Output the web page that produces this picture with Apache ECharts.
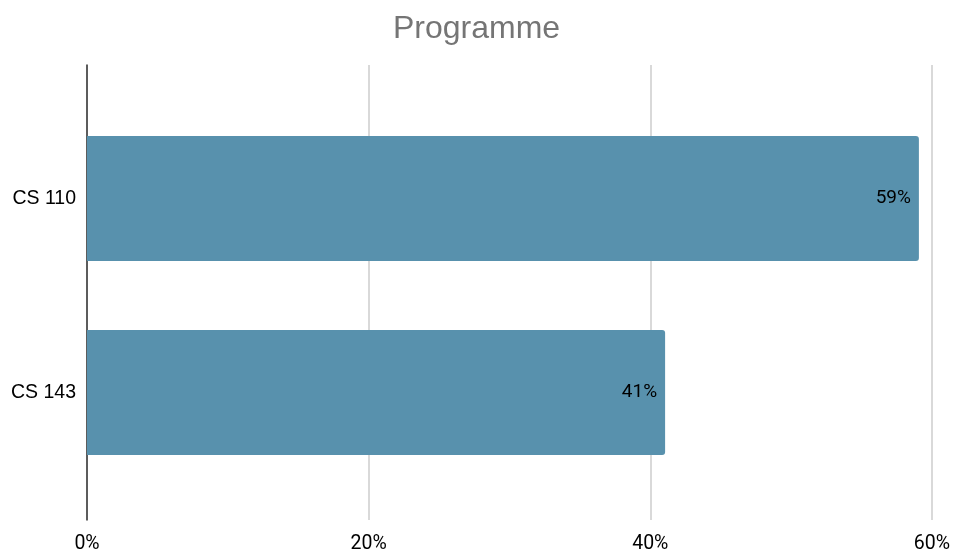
<!DOCTYPE html>
<html>
<head>
<meta charset="utf-8">
<script src="https://cdn.jsdelivr.net/npm/echarts@6/dist/echarts.min.js"></script>
<style>
  html, body { margin: 0; padding: 0; background: #fff; }
  #chart { width: 953px; height: 554px; }
</style>
</head>
<body>
<div id="chart"></div>
<script>
var categories = ['CS 110', 'CS 143'];
var shares = [59, 41];
var tickMax = 60;

var chart = echarts.init(document.getElementById('chart'));

// grid 0 holds the gridlines, tick labels and the left axis line (full plot height);
// grid 1 holds the bars, which sit inside a narrower band like in the original
var option = {
  animation: false,
  title: {
    text: 'Programme',
    left: 'center',
    top: 8,
    textStyle: { fontFamily: 'Liberation Sans', fontSize: 32, fontWeight: 'normal', color: '#757575' }
  },
  grid: [
    { left: 87, right: 20, top: 65, bottom: 34, containLabel: false },
    { left: 87, right: 20, top: 101.5, bottom: 64.5, containLabel: false }
  ],
  xAxis: [
    {
      gridIndex: 0,
      type: 'value',
      min: 0,
      max: tickMax,
      interval: 20,
      axisLine: { show: false },
      axisTick: { show: false },
      axisLabel: {
        formatter: '{value}%',
        fontFamily: 'Roboto',
        fontSize: 19.5,
        color: '#000',
        margin: 14
      },
      splitLine: { show: true, lineStyle: { color: '#cccccc', width: 1.5 } }
    },
    {
      gridIndex: 1,
      type: 'value',
      min: 0,
      max: tickMax,
      show: false
    }
  ],
  yAxis: [
    {
      gridIndex: 0,
      type: 'value',
      min: 0,
      max: 1,
      axisLine: { show: true, lineStyle: { color: '#333', width: 1.5 } },
      axisTick: { show: false },
      axisLabel: { show: false },
      splitLine: { show: false }
    },
    {
      gridIndex: 1,
      type: 'category',
      data: categories,
      inverse: true,
      axisLine: { show: false },
      axisTick: { show: false },
      axisLabel: { fontFamily: 'Liberation Sans', fontSize: 19.5, color: '#000', margin: 11 }
    }
  ],
  series: [
    {
      type: 'bar',
      xAxisIndex: 1,
      yAxisIndex: 1,
      data: shares,
      barWidth: 125,
      itemStyle: { color: '#5891ad', borderRadius: [0, 3, 3, 0] },
      label: {
        show: true,
        position: 'insideRight',
        distance: 8,
        formatter: '{c}%',
        fontFamily: 'Roboto',
        fontSize: 19,
        color: '#000'
      }
    }
  ]
};

chart.setOption(option);

window.addEventListener('resize', function () {
  chart.resize();
});
</script>
</body>
</html>
